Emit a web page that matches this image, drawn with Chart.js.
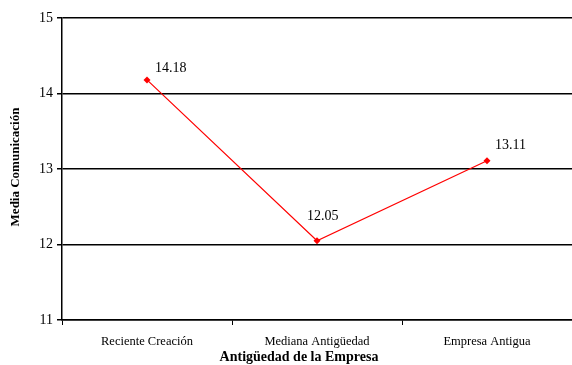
<!DOCTYPE html>
<html>
<head>
<meta charset="utf-8">
<script src="https://cdn.jsdelivr.net/npm/chart.js@4.4.1/dist/chart.umd.min.js"></script>
<style>
  html, body { margin: 0; padding: 0; background: #ffffff; overflow: hidden; }
  #wrap { width: 572px; height: 365px; }
</style>
</head>
<body>
<div id="wrap"><canvas id="chart"></canvas></div>
<script>
// Average communication score by company age group
const categories = ['Reciente Creación', 'Mediana Antigüedad', 'Empresa Antigua'];
const mediaComunicacion = [14.18, 12.05, 13.11];
const yTicks = [11, 12, 13, 14, 15];
const xTitle = 'Antigüedad de la Empresa';
const yTitle = 'Media Comunicación';

const serif = '"Liberation Serif", "Times New Roman", serif';

// Value labels next to each point, plus the two axis titles
const annotate = {
  id: 'annotate',
  afterDatasetsDraw(chart) {
    const ctx = chart.ctx;
    const meta = chart.getDatasetMeta(0);
    const offsets = [[8, -12], [-10, -24], [8, -15]];
    ctx.save();
    ctx.fillStyle = '#000';
    ctx.font = '14px ' + serif;
    ctx.textAlign = 'left';
    ctx.textBaseline = 'middle';
    meta.data.forEach((pt, i) => {
      const [dx, dy] = offsets[i];
      ctx.fillText(mediaComunicacion[i].toFixed(2), pt.x + dx, pt.y + dy);
    });
    ctx.font = 'bold 14px ' + serif;
    ctx.textAlign = 'center';
    ctx.fillText(xTitle, 299, 357);
    ctx.font = 'bold 13px ' + serif;
    ctx.translate(16, 167);
    ctx.rotate(-Math.PI / 2);
    ctx.fillText(yTitle, 0, 0);
    ctx.restore();
  }
};

new Chart(document.getElementById('chart'), {
  type: 'line',
  data: {
    labels: categories,
    datasets: [{
      data: mediaComunicacion,
      borderColor: '#ff0000',
      backgroundColor: '#ff0000',
      borderWidth: 1.2,
      pointStyle: 'rectRot',
      pointRadius: 3.5,
      pointBorderWidth: 0,
      tension: 0,
      fill: false
    }]
  },
  options: {
    responsive: true,
    maintainAspectRatio: false,
    animation: false,
    events: [],
    layout: { autoPadding: false, padding: { top: 18, right: 0, left: 0, bottom: 0 } },
    plugins: { legend: { display: false }, tooltip: { enabled: false } },
    scales: {
      x: {
        type: 'category',
        offset: true,
        afterFit(scale) {
          scale.height = 45;
          scale.paddingLeft = 0;
          scale.paddingRight = 0;
        },
        grid: {
          offset: true,
          drawOnChartArea: false,
          drawTicks: true,
          tickLength: 5,
          color: '#000',
          lineWidth: 1
        },
        border: { display: true, color: '#000', width: 1.5 },
        ticks: {
          color: '#000',
          font: { family: serif, size: 12.5 },
          padding: 9,
          maxRotation: 0
        }
      },
      y: {
        min: 11,
        max: 15,
        afterFit(scale) {
          scale.width = 62;
          scale.paddingTop = 0;
          scale.paddingBottom = 0;
        },
        afterBuildTicks(scale) { scale.ticks = yTicks.map(v => ({ value: v })); },
        grid: {
          color: '#000',
          lineWidth: 1.5,
          drawTicks: true,
          tickLength: 5
        },
        border: { display: true, color: '#000', width: 1.5 },
        ticks: {
          color: '#000',
          font: { family: serif, size: 14 },
          padding: 4
        }
      }
    }
  },
  plugins: [annotate]
});
</script>
</body>
</html>
